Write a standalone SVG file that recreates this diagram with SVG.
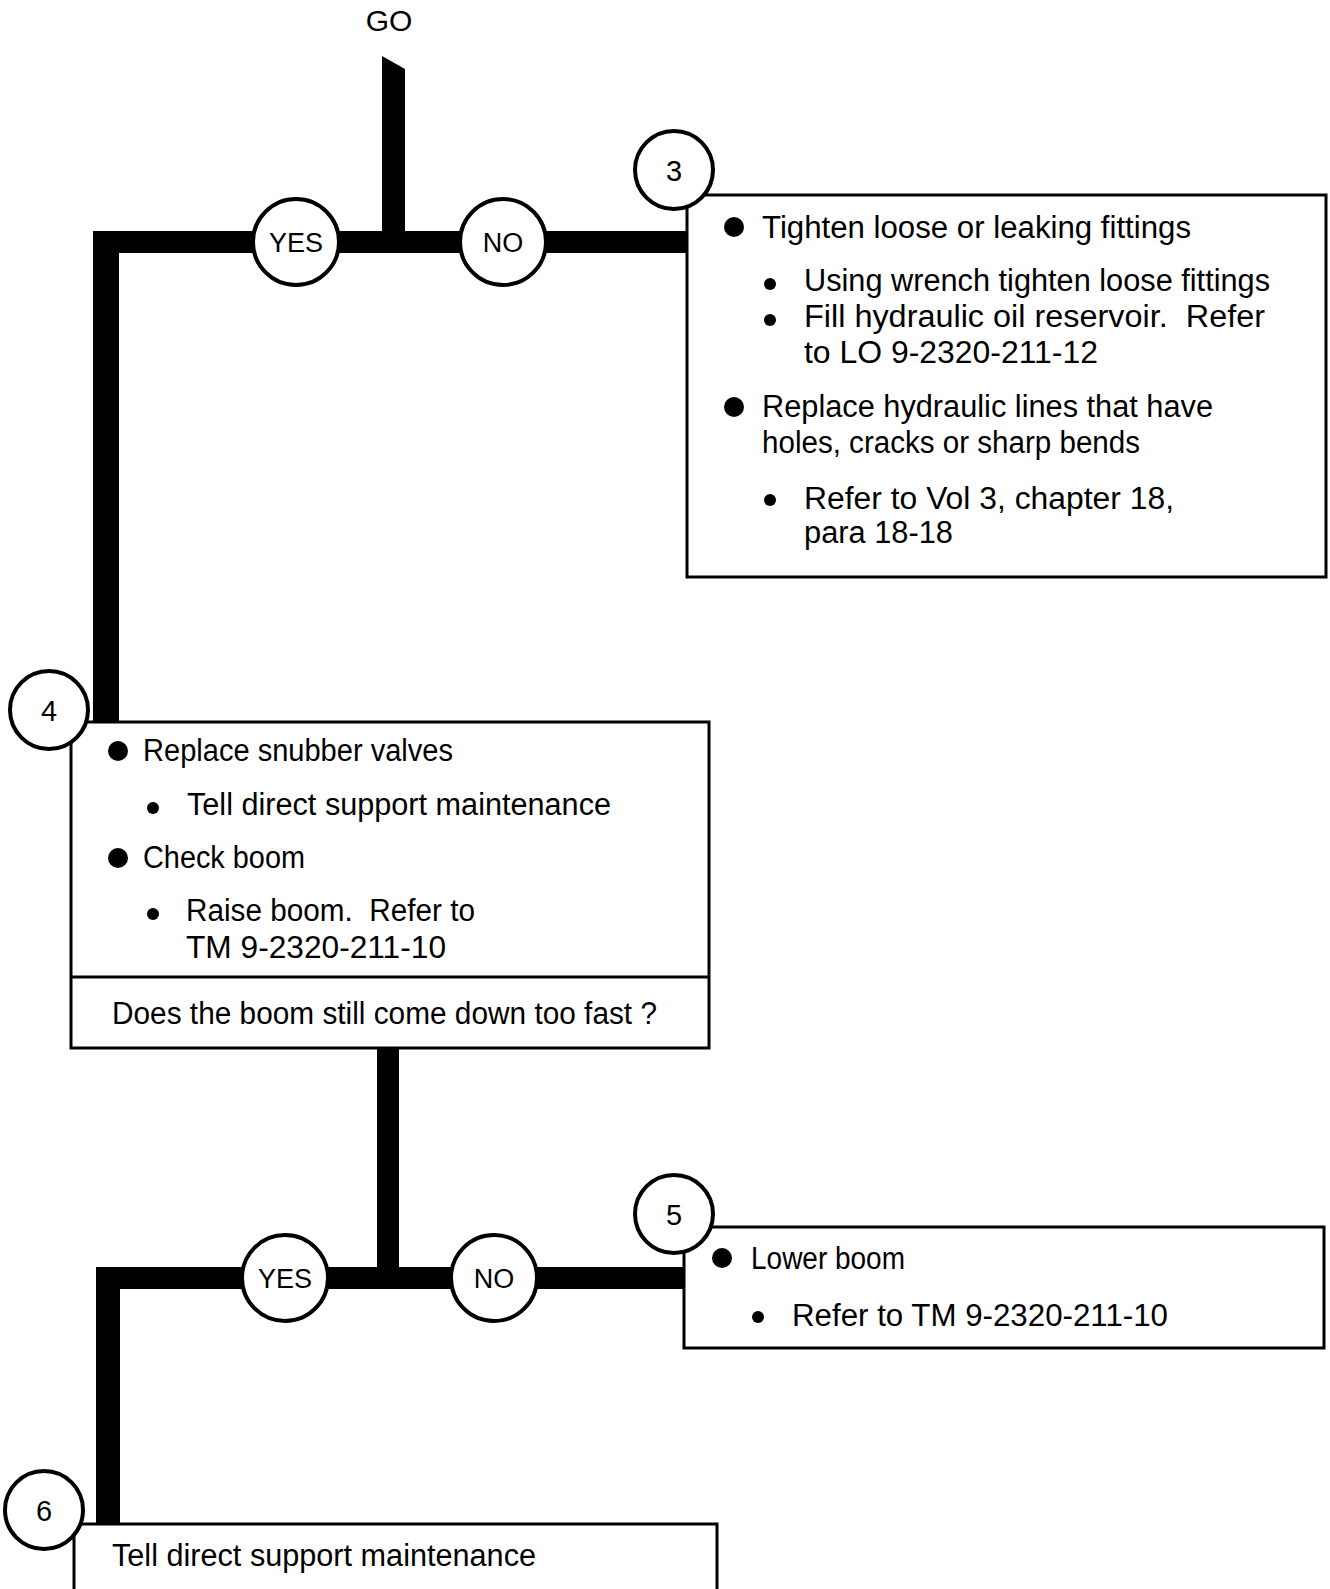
<svg xmlns="http://www.w3.org/2000/svg" width="1330" height="1589" viewBox="0 0 1330 1589">
<style>
text{font-family:"Liberation Sans",Arial,sans-serif;fill:#000}
.t{font-size:31px}
.c{font-size:27px;text-anchor:middle}
.n{font-size:29px;text-anchor:middle}
.box{fill:#fff;stroke:#000;stroke-width:3}
.circ{fill:#fff;stroke:#000;stroke-width:4}
.bar{fill:#000}
</style>
<rect width="1330" height="1589" fill="#fff"/>
<g id="connectors">
<polygon class="bar" points="382,56 405,69 405,253 382,253"/>
<rect class="bar" x="93" y="231" width="594" height="22"/>
<rect class="bar" x="93" y="231" width="26" height="492"/>
<rect class="bar" x="377" y="1048" width="22" height="241"/>
<rect class="bar" x="96" y="1267" width="588" height="22"/>
<rect class="bar" x="96" y="1267" width="24" height="258"/>
</g>
<g id="go"><text class="c" x="389" y="31" style="font-size:30px">GO</text></g>
<g id="yes1"><circle class="circ" cx="296" cy="242" r="43"/><text class="c" x="296" y="252">YES</text></g>
<g id="no1"><circle class="circ" cx="503" cy="242" r="43"/><text class="c" x="503" y="252">NO</text></g>
<g id="node3">
<rect class="box" x="687" y="195" width="639" height="382"/>
<circle class="circ" cx="674" cy="170" r="39"/><text class="n" x="674" y="181">3</text>
<circle cx="734" cy="227" r="10"/>
<text class="t" x="762" y="238" textLength="429" lengthAdjust="spacingAndGlyphs">Tighten loose or leaking fittings</text>
<circle cx="770" cy="284" r="6"/>
<text class="t" x="804" y="291" textLength="466" lengthAdjust="spacingAndGlyphs">Using wrench tighten loose fittings</text>
<circle cx="770" cy="320" r="6"/>
<text class="t" x="804" y="327" xml:space="preserve" textLength="461" lengthAdjust="spacingAndGlyphs">Fill hydraulic oil reservoir.  Refer</text>
<text class="t" x="804" y="363" textLength="294" lengthAdjust="spacingAndGlyphs">to LO 9-2320-211-12</text>
<circle cx="734" cy="407" r="10"/>
<text class="t" x="762" y="417" textLength="451" lengthAdjust="spacingAndGlyphs">Replace hydraulic lines that have</text>
<text class="t" x="762" y="453" textLength="378" lengthAdjust="spacingAndGlyphs">holes, cracks or sharp bends</text>
<circle cx="770" cy="500" r="6"/>
<text class="t" x="804" y="509" textLength="370" lengthAdjust="spacingAndGlyphs">Refer to Vol 3, chapter 18,</text>
<text class="t" x="804" y="543" textLength="149" lengthAdjust="spacingAndGlyphs">para 18-18</text>
</g>
<g id="node4">
<rect class="box" x="71" y="722" width="638" height="326"/>
<line x1="71" y1="977" x2="709" y2="977" stroke="#000" stroke-width="3"/>
<circle class="circ" cx="49" cy="710" r="39"/><text class="n" x="49" y="721">4</text>
<circle cx="118" cy="751" r="10"/>
<text class="t" x="143" y="761" textLength="310" lengthAdjust="spacingAndGlyphs">Replace snubber valves</text>
<circle cx="153" cy="808" r="6"/>
<text class="t" x="187" y="815" textLength="424" lengthAdjust="spacingAndGlyphs">Tell direct support maintenance</text>
<circle cx="118" cy="858" r="10"/>
<text class="t" x="143" y="868" textLength="162" lengthAdjust="spacingAndGlyphs">Check boom</text>
<circle cx="153" cy="914" r="6"/>
<text class="t" x="186" y="921" xml:space="preserve" textLength="289" lengthAdjust="spacingAndGlyphs">Raise boom.  Refer to</text>
<text class="t" x="186" y="958" textLength="260" lengthAdjust="spacingAndGlyphs">TM 9-2320-211-10</text>
<text class="t" x="112" y="1024" textLength="545" lengthAdjust="spacingAndGlyphs">Does the boom still come down too fast ?</text>
</g>
<g id="yes2"><circle class="circ" cx="285" cy="1278" r="43"/><text class="c" x="285" y="1288">YES</text></g>
<g id="no2"><circle class="circ" cx="494" cy="1278" r="43"/><text class="c" x="494" y="1288">NO</text></g>
<g id="node5">
<rect class="box" x="684" y="1227" width="640" height="121"/>
<circle class="circ" cx="674" cy="1214" r="39"/><text class="n" x="674" y="1225">5</text>
<circle cx="722" cy="1258" r="10"/>
<text class="t" x="751" y="1269" textLength="154" lengthAdjust="spacingAndGlyphs">Lower boom</text>
<circle cx="758" cy="1317" r="6"/>
<text class="t" x="792" y="1326" textLength="376" lengthAdjust="spacingAndGlyphs">Refer to TM 9-2320-211-10</text>
</g>
<g id="node6">
<rect class="box" x="74" y="1524" width="643" height="80"/>
<circle class="circ" cx="44" cy="1510" r="39"/><text class="n" x="44" y="1521">6</text>
<text class="t" x="112" y="1566" textLength="424" lengthAdjust="spacingAndGlyphs">Tell direct support maintenance</text>
</g>
</svg>
